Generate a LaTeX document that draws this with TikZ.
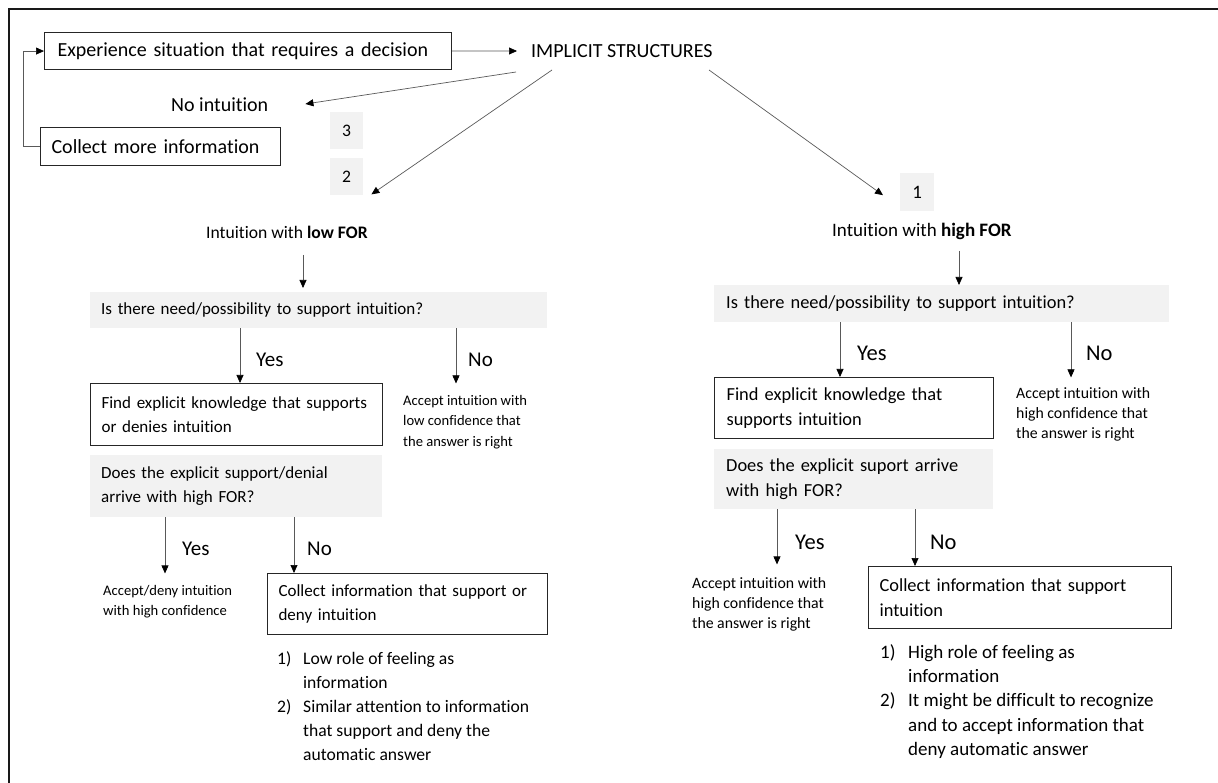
\documentclass[tikz,border=0pt]{standalone}
\usepackage{fontspec}
\setmainfont{Carlito}[Ligatures=NoCommon]
\usetikzlibrary{arrows.meta,calc}
\begin{document}
\begin{tikzpicture}[x=1pt,y=-1pt,
  big/.style={font=\fontsize{20}{24}\selectfont},
  main/.style={font=\fontsize{17}{24}\selectfont},
  lst/.style={font=\fontsize{17.6}{24}\selectfont},
  rmain/.style={font=\fontsize{18.4}{24.3}\selectfont},
  rlst/.style={font=\fontsize{19}{24.3}\selectfont},
  small/.style={font=\fontsize{14.6}{20.5}\selectfont, anchor=north west, inner sep=0pt, align=left},
  rsmall/.style={small, font=\fontsize{15.8}{20}\selectfont},
  yn/.style={font=\fontsize{21}{24}\selectfont, anchor=west, inner sep=0pt},
  ryn/.style={yn, font=\fontsize{22.5}{24}\selectfont},
  box/.style={draw=black!85, line width=1.1pt, anchor=north west, align=left, inner xsep=11pt, inner ysep=0pt, main},
  gbox/.style={fill=black!5, anchor=north west, align=left, inner xsep=11pt, inner ysep=0pt, main},
  numbox/.style={fill=black!5, anchor=north west, minimum width=33pt, minimum height=37pt, inner sep=0pt, main},
  plain/.style={anchor=west, inner sep=0pt, main},
  arr/.style={draw=black!65, line width=0.7pt, -{Triangle[length=8pt,width=7pt,color=black]}},
]
\useasboundingbox (0,0) rectangle (1218,783);
% frame
\draw[line width=2pt, black!90] (9,783) -- (9,9) -- (1218,9);

% top part
\node[box, big, minimum width=407pt, minimum height=37pt, inner xsep=13pt, text width=381pt] (exp) at (44,32) {Experience situation that requires a decision};
\node[plain, big] (imp) at (531,51) {IMPLICIT STRUCTURES};
\node[plain, big] (noint) at (171,105) {No intuition};
\node[box, big, minimum width=240pt, text width=218pt, minimum height=38pt] (coll0) at (40,127) {Collect more information};
\node[numbox, lst] (n3) at (330,112) {3};
\node[numbox, lst] (n2) at (330,158) {2};
\node[numbox, rlst, minimum width=34pt, minimum height=38pt] (n1) at (900,173) {1};

\draw[arr] (exp.east) -- ([xshift=-14pt]imp.west);
\draw[arr] (coll0.west) -- ++(-17,0) |- (exp.west);
\draw[arr] ($(imp.west)+(-15,21)$) -- ($(noint.east)+(37,-1)$);
\draw[arr] ($(imp.west)+(21,19)$) -- ($(n2.south east)+(8,-1)$);
\draw[arr] ($(imp.west)+(178,19)$) -- ($(n1.west)+(-17,3)$);

% left branch
\node[plain, lst] (lowfor) at (206,232) {Intuition with \textbf{low FOR}};
\node[gbox, minimum width=457pt, text width=435pt, minimum height=36pt] (q1) at (90,292) {Is there need/possibility to support intuition?};
\node[box, minimum width=292pt, text width=270pt, minimum height=62pt] (find1) at (90,383) {Find explicit knowledge that supports\\or denies intuition};
\node[small] (acc1) at (403,395) {Accept intuition with\\low confidence that\\the answer is right};
\node[gbox, minimum width=292pt, text width=270pt, minimum height=62pt] (q2) at (90,455) {Does the explicit support/denial\\arrive with high FOR?};
\node[small] (acc2) at (103,585) {Accept/deny intuition\\with high confidence};
\node[box, minimum width=280pt, text width=258pt, minimum height=61pt] (coll1) at (267,573) {Collect information that support or\\deny intuition};
\node[anchor=north west, inner sep=0pt, lst] (list1) at (277,647) {\begin{tabular}{@{}p{26pt}@{}l@{}}
1) & Low role of feeling as\\
   & information\\
2) & Similar attention to information\\
   & that support and deny the\\
   & automatic answer
\end{tabular}};

\node[yn] (y1) at (256,360) {Yes};
\node[yn] (no1) at (468,360) {No};
\node[yn] (y2) at (182,549) {Yes};
\node[yn] (no2) at (307,549) {No};

\draw[arr] ($(lowfor.west)+(97,23)$) -- ++(0,33);
\draw[arr] ($(q1.south west)+(150,0)$) -- ($(find1.north west)+(150,0)$);
\draw[arr] ($(q1.south west)+(366,0)$) -- ++(0,55);
\draw[arr] ($(q2.south west)+(75,0)$) -- ++(0,56);
\draw[arr] ($(q2.south west)+(204,0)$) -- ($(coll1.north west)+(27,0)$);

% right branch
\node[plain, rlst] (highfor) at (832,231) {Intuition with \textbf{high FOR}};
\node[gbox, rmain, minimum width=455pt, text width=431pt, inner xsep=12pt, minimum height=37pt] (q3) at (714,285) {Is there need/possibility to support intuition?};
\node[box, rmain, minimum width=279pt, text width=255pt, inner xsep=12pt, minimum height=61pt] (find2) at (714,377) {Find explicit knowledge that\\supports intuition};
\node[rsmall] (acc3) at (1016,387) {Accept intuition with\\high confidence that\\the answer is right};
\node[gbox, rmain, minimum width=279pt, text width=255pt, inner xsep=12pt, minimum height=60pt] (q4) at (714,449) {Does the explicit suport arrive\\with high FOR?};
\node[rsmall] (acc4) at (692,577) {Accept intuition with\\high confidence that\\the answer is right};
\node[box, rmain, minimum width=303pt, text width=281pt, minimum height=62pt] (coll2) at (868,566) {Collect information that support\\intuition};
\node[anchor=north west, inner sep=0pt, rlst] (list2) at (880,641) {\begin{tabular}{@{}p{28pt}@{}l@{}}
1) & High role of feeling as\\
   & information\\
2) & It might be difficult to recognize\\
   & and to accept information that\\
   & deny automatic answer
\end{tabular}};

\node[ryn] (y3) at (857,353) {Yes};
\node[ryn] (no3) at (1086,353) {No};
\node[ryn] (y4) at (795,542) {Yes};
\node[ryn] (no4) at (930,542) {No};

\draw[arr] ($(highfor.west)+(127,20)$) -- ++(0,34);
\draw[arr] ($(q3.south west)+(126,0)$) -- ($(find2.north west)+(126,0)$);
\draw[arr] ($(q3.south west)+(357,0)$) -- ++(0,55);
\draw[arr] ($(q4.south west)+(63,0)$) -- ++(0,55);
\draw[arr] ($(q4.south west)+(201,0)$) -- ($(coll2.north west)+(47,0)$);
\end{tikzpicture}
\end{document}
